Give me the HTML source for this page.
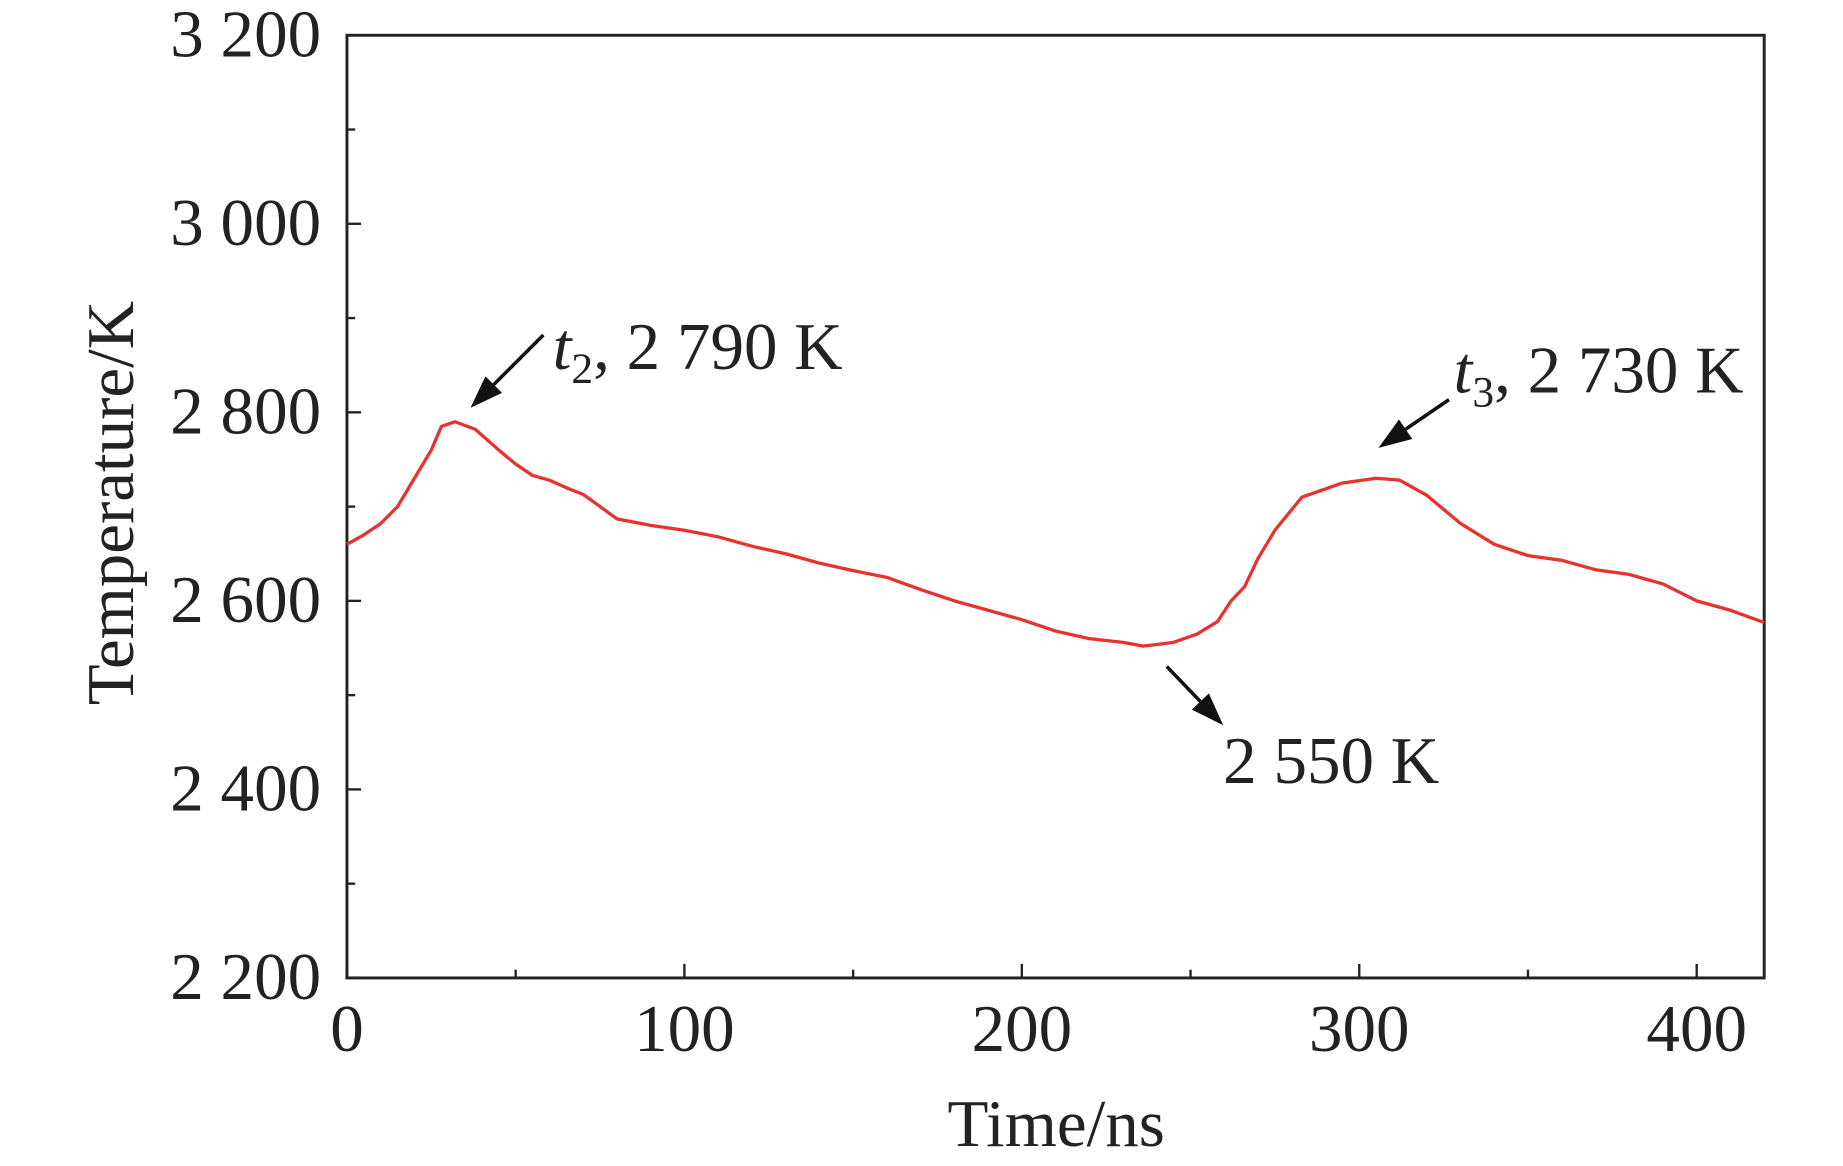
<!DOCTYPE html>
<html><head><meta charset="utf-8"><style>
html,body{margin:0;padding:0;background:#fff;}
svg{display:block;font-family:"Liberation Serif",serif;}
</style></head><body>
<svg id="chart" width="1843" height="1166" viewBox="0 0 1567 992" preserveAspectRatio="none" xmlns="http://www.w3.org/2000/svg">
<g id="axes"></g>
<path id="line" fill="none" stroke="#e8322e" stroke-width="2.8" stroke-linejoin="round"></path>
<g id="ann"></g>
</svg>
<script>
const times=[0,5,10,15,20,25,28,32,38,45,50,55,60,65,70,75,80,90,100,110,120,130,140,150,160,170,180,190,200,210,220,230,236,245,252,258,262,266,270,275,283,295,305,312,320,330,340,350,360,370,380,390,400,410,420];
const temps=[2660,2670,2682,2700,2730,2760,2785,2790,2782,2760,2745,2733,2728,2720,2713,2700,2687,2680,2675,2668,2658,2650,2640,2632,2625,2612,2600,2590,2580,2568,2560,2556,2552,2556,2565,2578,2600,2615,2645,2675,2710,2725,2730,2728,2712,2682,2660,2648,2643,2633,2628,2618,2600,2590,2577];
const xTicks=[0,100,200,300,400];
const yTicks=[2200,2400,2600,2800,3000,3200];
const yTickLabels=["2 200","2 400","2 600","2 800","3 000","3 200"];
const L=295,R=1500,T=30,B=832;
const xs=t=>L+(t-0)/(420-0)*(R-L);
const ys=v=>B-(v-2200)/(3200-2200)*(B-T);
const NS="http://www.w3.org/2000/svg";
const ax=document.getElementById('axes');
function mk(tag,attrs,parent,text){const e=document.createElementNS(NS,tag);for(const k in attrs)e.setAttribute(k,attrs[k]);if(text!==undefined)e.textContent=text;parent.appendChild(e);return e;}
const frame=mk('rect',{x:L,y:T,width:R-L,height:B-T,fill:'none',stroke:'#222','stroke-width':2.5},ax);


for(let t=0;t<=420;t+=50){const major=t%100===0;const tk=mk('line',{x1:xs(t),x2:xs(t),y1:B,y2:B-(major?12:7),stroke:'#222','stroke-width':2},ax);

}
xTicks.forEach(t=>{const tx=mk('text',{x:xs(t),y:B+62,'font-size':57,'text-anchor':'middle',fill:'#222'},ax,String(t));

});
for(let v=2200;v<=3200;v+=100){const major=v%200===0;const tk=mk('line',{x1:L,x2:L+(major?12:7),y1:ys(v),y2:ys(v),stroke:'#222','stroke-width':2},ax);

}
yTicks.forEach((v,i)=>{const tx=mk('text',{x:L-22,y:ys(v)+18,'font-size':57,'text-anchor':'end',fill:'#222'},ax,yTickLabels[i]);

});
const xt=mk('text',{x:898,y:975,'font-size':57,'text-anchor':'middle',fill:'#222'},ax,'Time/ns');


const yt=mk('text',{x:0,y:0,'font-size':57,'text-anchor':'middle',fill:'#222',transform:'translate(113,428) rotate(-90)'},ax,'Temperature/K');


document.getElementById('line').setAttribute('d',times.map((t,i)=>(i?'L':'M')+xs(t).toFixed(1)+','+ys(temps[i]).toFixed(1)).join(''));
const an=document.getElementById('ann');
function arrow(x1,y1,x2,y2,name){const g=mk('g',{},an);


const a=Math.atan2(y2-y1,x2-x1),hl=28,hw=10;const bx=x2-hl*Math.cos(a),by=y2-hl*Math.sin(a);
mk('line',{x1:x1,y1:y1,x2:bx,y2:by,stroke:'#111','stroke-width':3},g);
mk('polygon',{points:`${x2},${y2} ${bx-hw*Math.sin(a)},${by+hw*Math.cos(a)} ${bx+hw*Math.sin(a)},${by-hw*Math.cos(a)}`,fill:'#111'},g);}
arrow(462,285,400,347,'arrow-peak1');
arrow(1232,340,1172,381,'arrow-peak2');
arrow(992,567,1040,617,'arrow-min');
const l1=mk('text',{x:470,y:314,'font-size':57,fill:'#222'},an);


l1.innerHTML='<tspan font-style="italic">t</tspan><tspan font-size="37" dy="12">2</tspan><tspan dy="-12">, 2 790 K</tspan>';
const l2=mk('text',{x:1236,y:334,'font-size':57,fill:'#222'},an);


l2.innerHTML='<tspan font-style="italic">t</tspan><tspan font-size="37" dy="12">3</tspan><tspan dy="-12">, 2 730 K</tspan>';
const l3=mk('text',{x:1040,y:666,'font-size':57,fill:'#222'},an,'2 550 K');


</script>
</body></html>
